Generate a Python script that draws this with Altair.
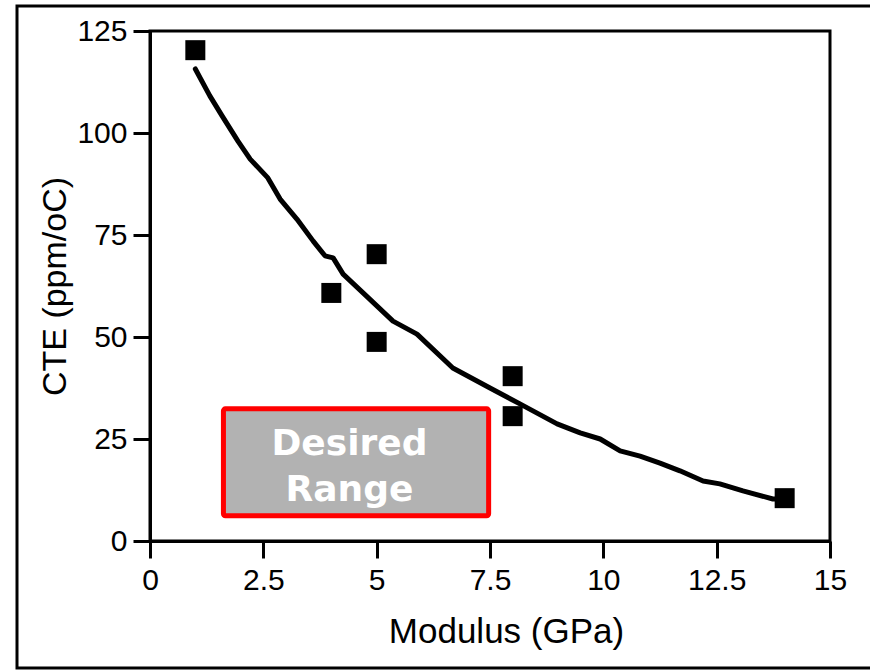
import altair as alt
import pandas as pd

# measured points
modulus = [1, 4, 5, 5, 8, 8, 14]
cte = [120.3, 60.8, 70.3, 48.8, 40.4, 30.6, 10.5]

# fitted curve
fit_modulus = [1.0, 1.32, 1.59, 1.94, 2.21, 2.6, 2.87, 3.24, 3.6, 3.86, 4.04, 4.26,
               4.7, 5.36, 5.89, 6.68, 7.5, 8.16, 8.98, 9.49, 9.93, 10.37, 10.81,
               11.25, 11.69, 12.2, 12.57, 13.08, 13.74, 13.9]
fit_cte = [115.7, 109.1, 104.2, 98.0, 93.6, 89.0, 83.8, 78.9, 73.5, 69.9, 69.4, 65.4,
           60.8, 53.9, 50.7, 42.4, 37.5, 33.6, 28.7, 26.5, 25.0, 22.1, 20.8,
           19.1, 17.2, 14.7, 14.0, 12.3, 10.3, 10.3]

# desired range box
box_modulus = [1.62, 7.47]
box_cte = [6.2, 32.4]
box_text = ["Desired", "Range"]
text_modulus = [4.4, 4.4]
text_cte = [21.0, 9.7]

x_ticks = [0, 2.5, 5, 7.5, 10, 12.5, 15]
y_ticks = [0, 25, 50, 75, 100, 125]

FONT = "Liberation Sans"

pts = pd.DataFrame({"Modulus": modulus, "CTE": cte})
fit = pd.DataFrame({"Modulus": fit_modulus, "CTE": fit_cte})
box = pd.DataFrame({"x1": [box_modulus[0]], "x2": [box_modulus[1]],
                    "y1": [box_cte[0]], "y2": [box_cte[1]]})
txt = pd.DataFrame({"Modulus": text_modulus, "CTE": text_cte, "label": box_text})
one = pd.DataFrame({"a": [0]})

xscale = alt.Scale(domain=[0, 15], nice=False, zero=False)
yscale = alt.Scale(domain=[0, 125], nice=False, zero=False)

x_axis = alt.Axis(values=x_ticks, format=".4~g", title="Modulus (GPa)", grid=False,
                  labelFont=FONT, labelFontSize=30, labelColor="black", labelPadding=7,
                  labelFlush=False, labelOverlap=False,
                  tickSize=17, tickWidth=3, tickColor="black",
                  domainColor="black", domainWidth=3,
                  titleFont=FONT, titleFontSize=35, titleFontWeight="normal",
                  titleColor="black", titleX=356, titleY=101, titleAlign="center",
                  titleBaseline="alphabetic")
y_axis = alt.Axis(values=y_ticks, format=".4~g", title="CTE (ppm/oC)", grid=False,
                  labelFont=FONT, labelFontSize=30, labelColor="black", labelPadding=6,
                  labelFlush=False, labelOverlap=False,
                  tickSize=17, tickWidth=3, tickColor="black",
                  domainColor="black", domainWidth=3,
                  titleFont=FONT, titleFontSize=34, titleFontWeight="normal",
                  titleColor="black", titleX=-95, titleY=255, titleAngle=270,
                  titleAlign="center", titleBaseline="middle")

frame = alt.Chart(one).mark_rect(filled=False, stroke="black", strokeWidth=3).encode(
    x=alt.value(-133), x2=alt.value(725), y=alt.value(-25), y2=alt.value(637)
)

rng = alt.Chart(box).mark_rect(fill="#b2b2b2", stroke="#ff0000", strokeWidth=5,
                               cornerRadius=2).encode(
    x=alt.X("x1:Q", scale=xscale, axis=x_axis),
    x2="x2:Q",
    y=alt.Y("y1:Q", scale=yscale, axis=y_axis),
    y2="y2:Q",
)

labels = alt.Chart(txt).mark_text(font="DejaVu Sans", fontWeight="bold", fontSize=36,
                                  color="white", align="center",
                                  baseline="alphabetic").encode(
    x=alt.X("Modulus:Q", scale=xscale),
    y=alt.Y("CTE:Q", scale=yscale),
    text="label:N",
)

line = alt.Chart(fit).mark_line(color="black", strokeWidth=5, strokeJoin="round",
                                strokeCap="round").encode(
    x=alt.X("Modulus:Q", scale=xscale),
    y=alt.Y("CTE:Q", scale=yscale),
    order=alt.Order("Modulus:Q"),
)

points = alt.Chart(pts).mark_square(size=400, color="black", opacity=1).encode(
    x=alt.X("Modulus:Q", scale=xscale),
    y=alt.Y("CTE:Q", scale=yscale),
)

chart = alt.layer(rng, frame, labels, line, points).properties(
    width=680, height=510,
    autosize=alt.AutoSizeParams(type="none"),
    padding={"left": 150, "top": 31, "right": 40, "bottom": 130},
    background="white",
).configure_view(stroke="black", strokeWidth=3)

chart.save("out.html", embed_options={"renderer": "svg", "actions": False})
